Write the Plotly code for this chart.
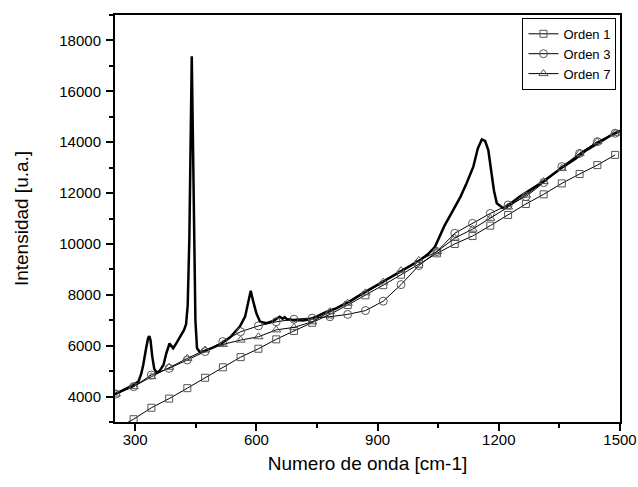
import plotly.graph_objects as go

# Raman spectrum
spec_x = [250, 265, 280, 295, 308, 315, 320, 327, 332, 335, 338, 342, 347, 353, 360, 370, 377, 385, 394, 402, 411, 421,
          426, 430, 434, 437, 440, 443, 446, 449, 453, 460, 471, 490, 510, 535, 559, 572, 580, 586, 592, 600, 609,
          625, 640, 652, 658, 665, 670, 676, 683, 692, 700, 715, 733, 750, 774, 795, 815, 835, 856, 885, 914, 940,
          964, 985, 1005, 1025, 1042, 1065, 1087, 1105, 1120, 1137, 1148, 1158, 1166, 1174, 1182, 1188, 1195,
          1211, 1230, 1252, 1280, 1310, 1335, 1360, 1390, 1417, 1450, 1475, 1500]
spec_y = [4100, 4200, 4330, 4455, 4590, 4900, 5250, 5900, 6300, 6380, 6200, 5600, 5100, 4940, 5000, 5240, 5700, 6090, 5900, 6100, 6330, 6620,
          6850, 7600, 10200, 14200, 17380, 14000, 9500, 7000, 5900, 5750, 5780, 5900, 6055, 6330, 6750, 7140, 7750, 8160, 7750, 7270, 6940,
          6880, 6960, 7080, 7140, 7060, 7120, 7030, 7040, 6990, 7010, 6990, 7040, 7150, 7340, 7450, 7600, 7780, 7990, 8250, 8520, 8750,
          8980, 9180, 9370, 9600, 9890, 10700, 11330, 11850, 12380, 13040, 13750, 14110, 14050, 13690, 12780, 12100, 11600,
          11400, 11600, 11860, 12150, 12450, 12750, 13040, 13350, 13690, 14000, 14250, 14450]

# Baseline fits, sampled at the marker positions
fit_x = [252, 296, 340, 384, 429, 473, 517, 561, 605, 649, 693, 738, 782, 826, 870, 914, 958, 1002, 1047, 1091,
         1135, 1179, 1223, 1267, 1311, 1356, 1400, 1444, 1488]
orden1 = [2720, 3110, 3560, 3920, 4330, 4740, 5150, 5550, 5880, 6250, 6580, 6900, 7230, 7600, 7980, 8380, 8790, 9220, 9630, 10000,
          10310, 10720, 11140, 11570, 11950, 12380, 12750, 13100, 13500]
orden3 = [4100, 4390, 4850, 5110, 5440, 5770, 6160, 6550, 6780, 6940, 7040, 7080, 7140, 7230, 7380, 7750, 8400, 9150, 9700, 10420,
          10810, 11200, 11530, 11860, 12410, 13040, 13560, 14020, 14350]
orden7 = [4100, 4390, 4780, 5150, 5500, 5830, 6050, 6220, 6350, 6620, 6720, 6940, 7340, 7670, 8080, 8500, 8950, 9350, 9700, 10230,
          10580, 11010, 11450, 11920, 12450, 12970, 13560, 14020, 14350]

fit_names = ["Orden 1", "Orden 3", "Orden 7"]
fit_symbols = ["square-open", "circle-open", "triangle-up-open"]
fit_sizes = [7, 8, 8]

x_tickvals = [300, 600, 900, 1200, 1500]
y_tickvals = [4000, 6000, 8000, 10000, 12000, 14000, 16000, 18000]

FONT = "Arial, Liberation Sans, sans-serif"

fig = go.Figure()
fig.add_trace(go.Scatter(x=spec_x, y=spec_y, mode="lines", line=dict(color="black", width=2.5),
                         showlegend=False, hoverinfo="skip"))
for name, ys, sym, sz in zip(fit_names, [orden1, orden3, orden7], fit_symbols, fit_sizes):
    fig.add_trace(go.Scatter(x=fit_x, y=ys, mode="lines+markers", name=name,
                             line=dict(color="black", width=1),
                             marker=dict(symbol=sym, size=sz, color="#555555",
                                         line=dict(color="#555555", width=1))))

axis_common = dict(showline=True, linecolor="black", linewidth=2, mirror=True, ticks="outside",
                   ticklen=7, tickwidth=1.5, tickcolor="black", showgrid=False, zeroline=False,
                   tickformat="d", automargin=False,
                   tickfont=dict(family=FONT, size=15, color="black"))

fig.update_xaxes(range=[250, 1500], tickvals=x_tickvals, ticklabelstandoff=-4,
                 minor=dict(ticks="outside", ticklen=4, tickwidth=1.5, tickcolor="black", dtick=150, tick0=0),
                 title=dict(text="Numero de onda [cm-1]", font=dict(family=FONT, size=19, color="black"), standoff=10),
                 **axis_common)
fig.update_yaxes(range=[3000, 19000], tickvals=y_tickvals, ticklabelstandoff=2,
                 minor=dict(ticks="outside", ticklen=4, tickwidth=1.5, tickcolor="black", dtick=1000, tick0=0),
                 title=dict(text="Intensidad [u.a.]", font=dict(family=FONT, size=19, color="black"), standoff=26),
                 **axis_common)

fig.update_layout(
    width=638, height=487,
    margin=dict(l=115, r=18, t=15, b=65),
    paper_bgcolor="white", plot_bgcolor="white",
    font=dict(family=FONT, color="black"),
    legend=dict(x=0.993, y=0.993, xanchor="right", yanchor="top", bgcolor="white",
                bordercolor="black", borderwidth=1, font=dict(family=FONT, size=13, color="black"),
                tracegroupgap=0, itemwidth=30),
)

fig.write_html("out.html", config={"displayModeBar": False},
               post_script="document.body.style.margin='0';document.body.style.padding='0';")
